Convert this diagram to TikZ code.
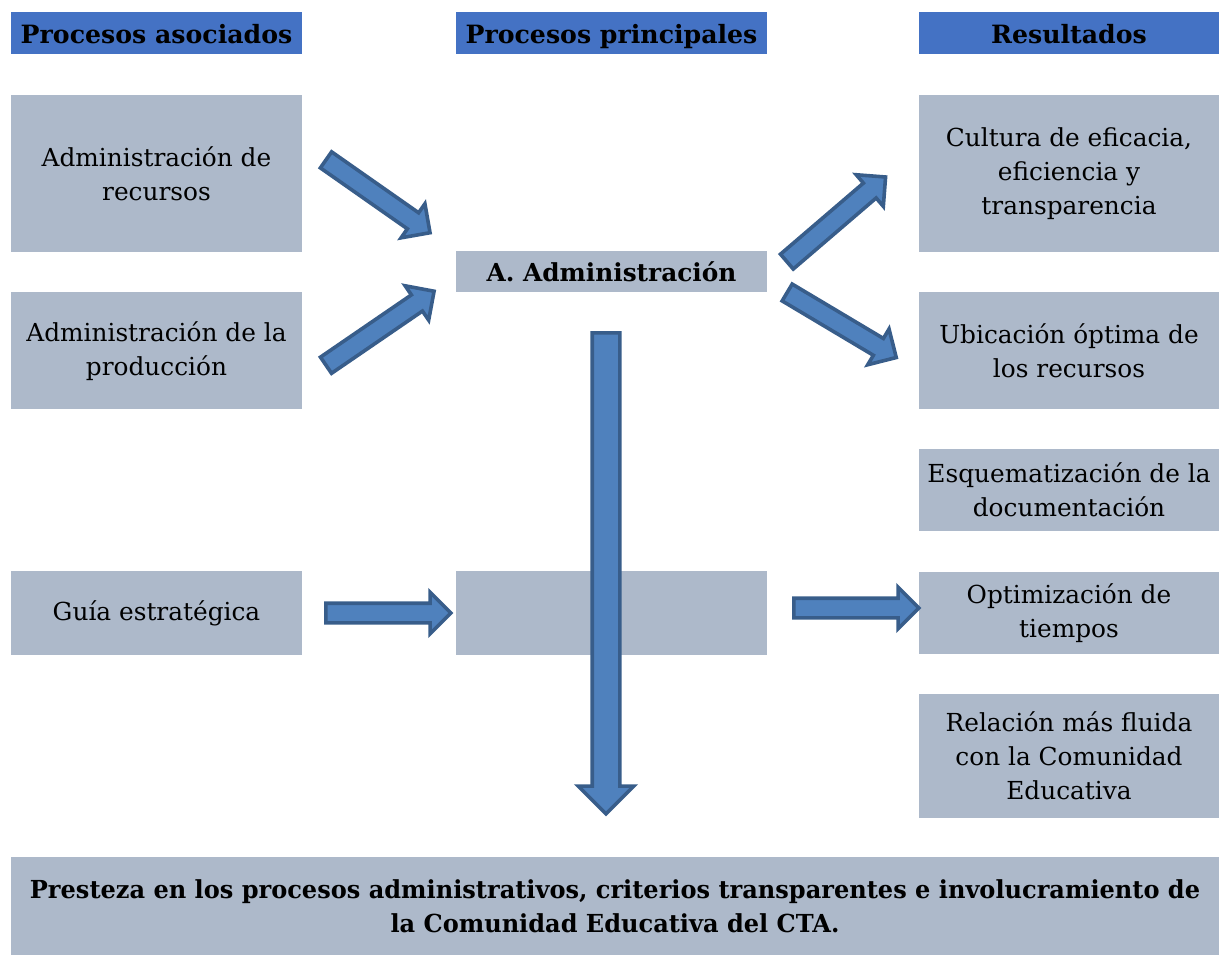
\documentclass[tikz,border=0pt]{standalone}
\usepackage{fontspec}
\setmainfont{DejaVu Serif}
\newfontfamily\condfont[FakeStretch=0.97]{DejaVu Serif}
\usetikzlibrary{shapes.arrows}
\definecolor{headblue}{HTML}{4472C4}
\definecolor{boxgray}{HTML}{ADB9CA}
\definecolor{arrowfill}{HTML}{4F81BD}
\definecolor{arrowline}{HTML}{385D8A}
\begin{document}
\begin{tikzpicture}[x=0.5pt,y=-0.5pt]
        \tikzstyle{every node}=[font=\fontsize{12.4}{17}\selectfont, align=center, inner sep=0pt]
        \tikzstyle{header}=[fill=headblue, font=\fontsize{12.6}{17}\selectfont\bfseries, minimum height=21pt, text height=11pt, text depth=0pt]
        \tikzstyle{box}=[fill=boxgray]
        \tikzstyle{leftbox}=[box, minimum width=145.5pt]
        \tikzstyle{midbox}=[box, minimum width=155.5pt]
        \tikzstyle{rightbox}=[box, minimum width=150pt]
        \tikzstyle{blockarrow}=[single arrow, draw=arrowline, fill=arrowfill, line width=1.8pt, inner ysep=4pt, single arrow head extend=5.5pt]
        \tikzstyle{bigarrow}=[blockarrow, inner ysep=6pt, single arrow head extend=7pt]
        \useasboundingbox (0,0) rectangle (1220,956);
        % column headers
        \node[header, minimum width=145.5pt] (hasoc) at (156.5,33) {Procesos asociados};
        \node[header, minimum width=155.5pt] (hprin) at (611.5,33) {Procesos principales};
        \node[header, minimum width=150pt] (hres) at (1069,33) {Resultados};
        % associated processes
        \node[leftbox, minimum height=78.5pt] (recursos) at (156.5,174) {Administración de\\recursos};
        \node[leftbox, minimum height=58.5pt] (produccion) at (156.5,351) {Administración de la\\producción};
        \node[leftbox, minimum height=42pt] (guia) at (156.5,613) {Guía estratégica};
        % main processes
        \node[midbox, minimum height=20.5pt, font=\fontsize{12.4}{17}\selectfont\bfseries] (admin) at (611.5,271.5) {A. Administración};
        \node[midbox, minimum height=42pt] (vacio) at (611.5,613) {};
        % results
        \node[rightbox, minimum height=78.5pt] (cultura) at (1069,174) {Cultura de eficacia,\\eficiencia y\\transparencia};
        \node[rightbox, minimum height=58.5pt] (ubicacion) at (1069,351) {Ubicación óptima de\\los recursos};
        \node[rightbox, minimum height=41pt] (esquema) at (1069,490) {Esquematización de la\\documentación};
        \node[rightbox, minimum height=41pt] (optim) at (1069,613) {Optimización de\\tiempos};
        \node[rightbox, minimum height=62pt] (relacion) at (1069,756) {Relación más fluida\\con la Comunidad\\Educativa};
        % conclusion
        \node[box, minimum width=604pt, minimum height=49pt, font=\fontsize{12.4}{17}\condfont\bfseries] (presteza) at (615,906) {Presteza en los procesos administrativos, criterios transparentes e involucramiento de\\la Comunidad Educativa del CTA.};
        % block arrows
        \node[blockarrow, minimum height=63.5pt, rotate=-35] (flecha1) at (374,193.5) {};
        \node[blockarrow, minimum height=65.5pt, rotate=34.4] (flecha2) at (376,331) {};
        \node[blockarrow, minimum height=62.5pt] (flecha3) at (383.5,613) {};
        \node[bigarrow, minimum height=240.5pt, rotate=-90] (flecha4) at (606,566.5) {};
        \node[blockarrow, minimum height=65pt, rotate=40.6] (flecha5) at (832.5,222.5) {};
        \node[blockarrow, minimum height=63.5pt, rotate=-30.8] (flecha6) at (837.5,322.5) {};
        \node[blockarrow, minimum height=62.5pt] (flecha7) at (851.5,608) {};
\end{tikzpicture}
\end{document}
